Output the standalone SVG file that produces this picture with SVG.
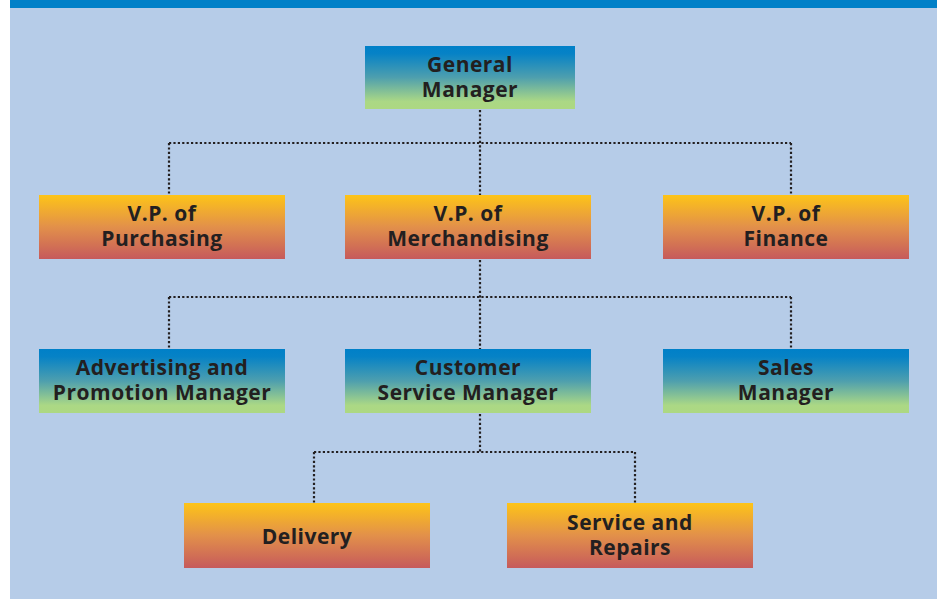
<svg xmlns="http://www.w3.org/2000/svg" width="937" height="599" viewBox="0 0 937 599">
<defs>
<linearGradient id="gBlue" x1="0" y1="0" x2="0" y2="1">
<stop offset="0" stop-color="#0080C8"/>
<stop offset="0.12" stop-color="#0682C6"/>
<stop offset="0.5" stop-color="#4E9FAE"/>
<stop offset="0.88" stop-color="#ABD885"/>
<stop offset="1" stop-color="#ADD882"/>
</linearGradient>
<linearGradient id="gOrange" x1="0" y1="0" x2="0" y2="1">
<stop offset="0" stop-color="#FDC418"/>
<stop offset="0.5" stop-color="#E2904A"/>
<stop offset="1" stop-color="#C65A5C"/>
</linearGradient>
<style>
.t{font-family:"Open Sans","Noto Sans","DejaVu Sans",sans-serif;font-weight:bold;font-size:21px;letter-spacing:0.5px;fill:#231F20;text-anchor:middle}
.c{fill:none;stroke:#231F20;stroke-width:2.2;stroke-dasharray:2.2 2.2;}
</style>
</defs>
<rect x="0" y="0" width="937" height="599" fill="#FFFFFF"/>
<rect x="10" y="0" width="927" height="599" fill="#B6CCE8"/>
<rect x="10" y="0" width="927" height="8" fill="#0080C8"/>
<g id="connectors">
<path class="c" d="M480 110 V195"/>
<path class="c" d="M169 143 H791"/>
<path class="c" d="M169 143 V195"/>
<path class="c" d="M791 143 V195"/>
<path class="c" d="M480 260 V349"/>
<path class="c" d="M169 297 H791"/>
<path class="c" d="M169 297 V349"/>
<path class="c" d="M791 297 V349"/>
<path class="c" d="M480 414 V452"/>
<path class="c" d="M314 452 H635"/>
<path class="c" d="M314 452 V503"/>
<path class="c" d="M635 452 V503"/>
</g>
<g id="gm">
<rect x="365" y="46" width="210" height="63" fill="url(#gBlue)"/>
<text class="t" x="470" y="71.5">General</text>
<text class="t" x="470" y="96.5">Manager</text>
</g>
<g id="vp-purchasing">
<rect x="39" y="195" width="246" height="64" fill="url(#gOrange)"/>
<text class="t" x="162" y="220.5">V.P. of</text>
<text class="t" x="162" y="245.5">Purchasing</text>
</g>
<g id="vp-merchandising">
<rect x="345" y="195" width="246" height="64" fill="url(#gOrange)"/>
<text class="t" x="468" y="220.5">V.P. of</text>
<text class="t" x="468" y="245.5">Merchandising</text>
</g>
<g id="vp-finance">
<rect x="663" y="195" width="246" height="64" fill="url(#gOrange)"/>
<text class="t" x="786" y="220.5">V.P. of</text>
<text class="t" x="786" y="245.5">Finance</text>
</g>
<g id="advertising">
<rect x="39" y="349" width="246" height="64" fill="url(#gBlue)"/>
<text class="t" x="162" y="374.5">Advertising and</text>
<text class="t" x="162" y="399.5">Promotion Manager</text>
</g>
<g id="customer-service">
<rect x="345" y="349" width="246" height="64" fill="url(#gBlue)"/>
<text class="t" x="468" y="374.5">Customer</text>
<text class="t" x="468" y="399.5">Service Manager</text>
</g>
<g id="sales">
<rect x="663" y="349" width="246" height="64" fill="url(#gBlue)"/>
<text class="t" x="786" y="374.5">Sales</text>
<text class="t" x="786" y="399.5">Manager</text>
</g>
<g id="delivery">
<rect x="184" y="503" width="246" height="65" fill="url(#gOrange)"/>
<text class="t" x="307" y="543.5">Delivery</text>
</g>
<g id="service-repairs">
<rect x="507" y="503" width="246" height="65" fill="url(#gOrange)"/>
<text class="t" x="630" y="529.5">Service and</text>
<text class="t" x="630" y="554.5">Repairs</text>
</g>
</svg>
